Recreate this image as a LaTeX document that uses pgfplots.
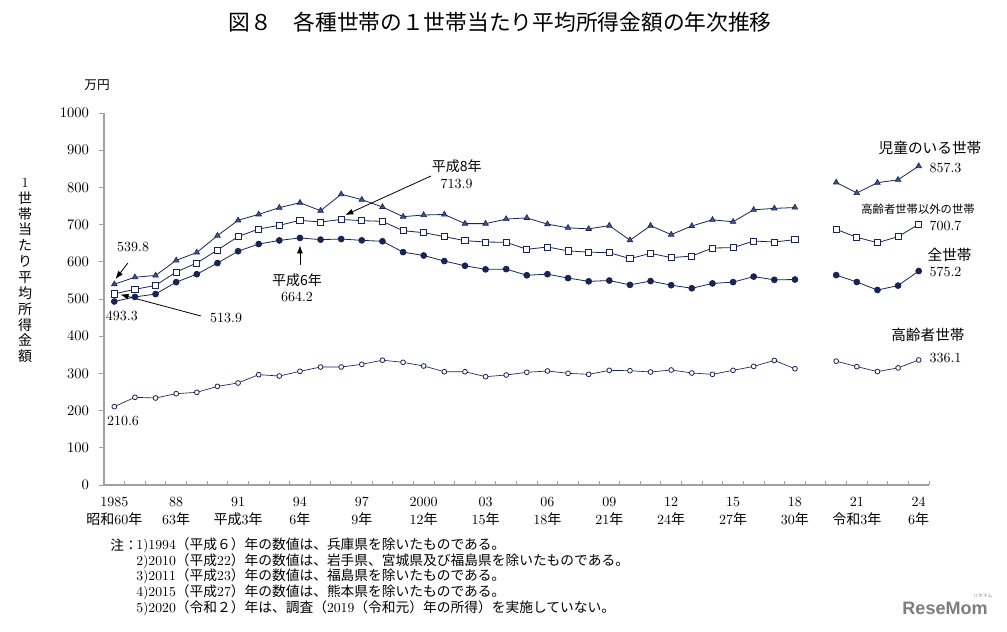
\documentclass[border=0pt]{standalone}
\usepackage{pgfplots}
\pgfplotsset{compat=1.18}
\usepackage{pgfplotstable}
\usepackage{fontspec}
\usetikzlibrary{arrows.meta}
\newfontfamily\jpfont{Noto Sans CJK JP}
\newfontfamily\logofont{Liberation Sans}
\newcommand\jp[1]{{\jpfont #1}}
\definecolor{navy}{RGB}{24,36,86}
\definecolor{trifill}{RGB}{62,86,150}
\definecolor{axgray}{RGB}{160,160,160}
\definecolor{logogray}{RGB}{125,125,125}

% Average income per household (10,000 yen), by income year; 2019 not surveyed
\pgfplotstableread{
year all child nonold old
1985 493.3 539.8 513.9 210.6
1986 505.6 558.5 526.0 235.7
1987 513.3 563.4 536.7 233.9
1988 545.3 603.9 572.6 245.5
1989 566.7 625.0 596.8 249.1
1990 596.6 670.4 631.7 265.2
1991 628.4 711.5 667.6 274.2
1992 647.8 727.6 688.2 296.6
1993 657.5 745.5 698.1 293.0
1994 664.2 758.9 711.5 305.6
1995 659.6 737.3 707.0 317.2
1996 661.2 781.6 713.9 317.2
1997 657.7 767.1 710.6 324.4
1998 655.2 747.4 708.8 335.5
1999 626.0 721.4 683.7 329.8
2000 616.9 725.8 678.3 319.9
2001 602.0 727.2 667.6 304.6
2002 589.3 702.7 656.8 304.6
2003 579.7 702.6 653.2 291.2
2004 580.4 714.9 652.4 295.7
2005 563.8 718.0 633.6 302.9
2006 566.8 701.2 639.8 306.5
2007 556.2 691.4 629.4 300.2
2008 547.5 688.5 625.9 297.5
2009 549.6 697.3 624.6 308.2
2010 538.0 658.1 608.5 307.3
2011 548.2 697.0 622.8 303.8
2012 537.2 673.2 611.1 309.1
2013 528.9 696.3 615.6 301.1
2014 541.9 712.9 637.1 297.5
2015 545.4 707.6 638.0 308.2
2016 560.2 739.8 655.9 318.9
2017 551.6 743.6 653.2 334.9
2018 552.3 745.9 659.5 312.6
2019 nan nan nan nan
2020 564.3 813.5 687.3 332.9
2021 545.7 785.0 665.8 318.3
2022 524.2 812.6 651.4 304.9
2023 536.0 820.5 667.6 314.8
2024 575.2 857.3 700.7 336.1
}\incometable

\begin{document}
\begin{tikzpicture}
\begin{scope}[x=0.75pt,y=0.75pt]
\path[use as bounding box] (0,0) rectangle (1007,-632);

% title
\node[font=\jpfont\fontsize{16.3}{18}\selectfont] at (500,-22)
  {図８　各種世帯の１世帯当たり平均所得金額の年次推移};

% unit and vertical axis title
\node[font=\jpfont\fontsize{9.5}{11}\selectfont] at (97,-85) {万円};
\node[align=center, font=\fontsize{10.5}{11.9}\selectfont, inner sep=0pt] at (25,-270.5)
  {1\\\jp{世}\\\jp{帯}\\\jp{当}\\\jp{た}\\\jp{り}\\\jp{平}\\\jp{均}\\\jp{所}\\\jp{得}\\\jp{金}\\\jp{額}};

% notes
\begin{scope}[font=\fontsize{10.3}{11}\selectfont, inner sep=0pt]
\node[anchor=west] at (110,-545) {\jp{注：}};
\node[anchor=west] at (136,-545) {1)1994\jp{（平成６）年の数値は、兵庫県を除いたものである。}};
\node[anchor=west] at (136,-561.5) {2)2010\jp{（平成}22\jp{）年の数値は、岩手県、宮城県及び福島県を除いたものである。}};
\node[anchor=west] at (136,-576.8) {3)2011\jp{（平成}23\jp{）年の数値は、福島県を除いたものである。}};
\node[anchor=west] at (136,-592) {4)2015\jp{（平成}27\jp{）年の数値は、熊本県を除いたものである。}};
\node[anchor=west] at (136,-608) {5)2020\jp{（令和２）年は、調査（}2019\jp{（令和元）年の所得）を実施していない。}};
\end{scope}

% site mark
\node[font=\logofont\bfseries\fontsize{13.5}{14}\selectfont, text=logogray] at (945,-608) {ReseMom};
\node[font=\jpfont\fontsize{3.5}{4}\selectfont, text=logogray] at (983,-596) {リセマム};
\end{scope}

\begin{axis}[
  at={(78pt,-363.75pt)}, anchor=south west,
  scale only axis, width=618.75pt, height=279pt,
  xmin=1984.5, xmax=2024.5, ymin=0, ymax=1000,
  axis x line*=bottom, axis y line*=left,
  axis line style={axgray, line width=0.8pt},
  clip=false,
  unbounded coords=jump,
  ytick={0,100,...,1000},
  tick align=outside,
  major tick length=3.75pt,
  minor tick length=3pt,
  tick style={axgray, line width=0.6pt},
  yticklabel style={font=\fontsize{10.5}{12}\selectfont, xshift=-4pt,
    /pgf/number format/1000 sep={}},
  xtick={1985,1988,...,2024},
  major x tick style={draw=none},
  minor xtick={1984.5,1985.5,...,2024.5},
  minor x tick style={axgray, line width=0.6pt, yshift=3pt},
  xticklabels={
    {1985\\\jp{昭和}60\jp{年}}, {88\\63\jp{年}}, {91\\\jp{平成}3\jp{年}},
    {94\\6\jp{年}}, {97\\9\jp{年}}, {2000\\12\jp{年}}, {03\\15\jp{年}},
    {06\\18\jp{年}}, {09\\21\jp{年}}, {12\\24\jp{年}}, {15\\27\jp{年}},
    {18\\30\jp{年}}, {21\\\jp{令和}3\jp{年}}, {24\\6\jp{年}}},
  xticklabel style={align=center, font=\fontsize{10.5}{13.5}\selectfont, yshift=-2pt},
]
% households with children
\addplot[navy, line width=0.6pt, mark=triangle*, mark size=2.4pt,
  mark options={fill=trifill, draw=navy, line width=0.5pt}]
  table[x=year, y=child]{\incometable};
% households other than elderly
\addplot[navy, line width=0.6pt, mark=square*, mark size=2.3pt,
  mark options={fill=white, draw=navy, line width=0.6pt}]
  table[x=year, y=nonold]{\incometable};
% all households
\addplot[navy, line width=0.6pt, mark=*, mark size=2.2pt,
  mark options={fill=navy, draw=navy}]
  table[x=year, y=all]{\incometable};
% elderly households
\addplot[navy, line width=0.5pt, mark=*, mark size=1.8pt,
  mark options={fill=white, draw=navy, line width=0.6pt}]
  table[x=year, y=old]{\incometable};

% value callouts
\begin{scope}[font=\fontsize{10.5}{12}\selectfont]
\node at (axis cs:1985.91,639.8) {539.8};
\draw[-{Latex[length=6pt,width=4.5pt]}, line width=0.6pt] (axis cs:1985.66,596.8) -- (axis cs:1985.06,553.8);
\node at (axis cs:1985.37,454) {493.3};
\node at (axis cs:1990.42,449) {513.9};
\draw[-{Latex[length=6pt,width=4.5pt]}, line width=0.6pt] (axis cs:1989.2,454.3) -- (axis cs:1985.3,512);
\node[font=\jpfont\fontsize{10.5}{12}\selectfont] at (axis cs:1993.86,551) {平成6年};
\node at (axis cs:1993.86,505.4) {664.2};
\draw[-{Latex[length=6pt,width=4.5pt]}, line width=0.6pt] (axis cs:1994,591) -- (axis cs:1994,644);
\node[font=\jpfont\fontsize{10.5}{12}\selectfont] at (axis cs:2001.6,857.5) {平成8年};
\node at (axis cs:2001.6,809) {713.9};
\draw[-{Latex[length=6pt,width=4.5pt]}, line width=0.6pt] (axis cs:2000.35,830.6) -- (axis cs:1996.2,725.8);
\node at (axis cs:1985.42,172) {210.6};

\node[font=\jpfont\fontsize{11}{12}\selectfont] at (axis cs:2024.55,906) {児童のいる世帯};
\node at (axis cs:2025.3,852) {857.3};
\node[font=\jpfont\fontsize{8.5}{10}\selectfont] at (axis cs:2023.97,742) {高齢者世帯以外の世帯};
\node at (axis cs:2025.3,696) {700.7};
\node[font=\jpfont\fontsize{11}{12}\selectfont] at (axis cs:2025.5,618) {全世帯};
\node at (axis cs:2025.3,572.6) {575.2};
\node[font=\jpfont\fontsize{11}{12}\selectfont] at (axis cs:2024.45,403) {高齢者世帯};
\node at (axis cs:2025.3,341) {336.1};
\end{scope}
\end{axis}
\end{tikzpicture}
\end{document}
